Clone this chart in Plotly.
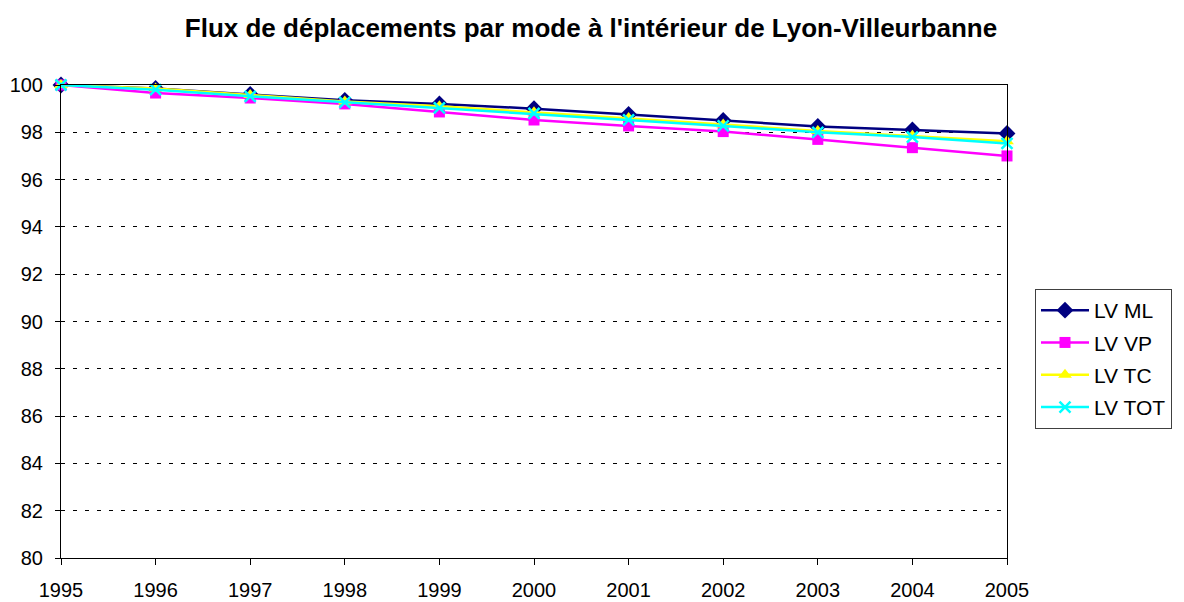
import plotly.graph_objects as go

years = [1995, 1996, 1997, 1998, 1999, 2000, 2001, 2002, 2003, 2004, 2005]
lv_ml = [100, 99.85, 99.6, 99.35, 99.2, 99.0, 98.75, 98.5, 98.25, 98.1, 97.95]
lv_vp = [100, 99.66, 99.45, 99.2, 98.86, 98.52, 98.27, 98.03, 97.7, 97.35, 97.0]
lv_tc = [100, 99.85, 99.58, 99.3, 99.1, 98.85, 98.6, 98.33, 98.05, 97.85, 97.62]
lv_tot = [100, 99.8, 99.52, 99.27, 99.03, 98.8, 98.53, 98.27, 98.0, 97.8, 97.53]
y_ticks = [80, 82, 84, 86, 88, 90, 92, 94, 96, 98, 100]

series = [
    ("LV ML", lv_ml, "#000080", "diamond", 13),
    ("LV VP", lv_vp, "#FF00FF", "square", 11),
    ("LV TC", lv_tc, "#FFFF00", "triangle-up", 12),
    ("LV TOT", lv_tot, "#00FFFF", "x-thin", 11),
]

fig = go.Figure()
for name, vals, color, sym, size in series:
    marker = dict(symbol=sym, size=size, color=color)
    if sym == "x-thin":
        marker["line"] = dict(color=color, width=2.5)
    fig.add_trace(go.Scatter(
        x=years, y=vals, name=name, mode="lines+markers", legendgroup=name,
        line=dict(color=color, width=2.5), marker=marker,
    ))

fig.update_layout(
    width=1184, height=602,
    margin=dict(l=53, r=185, t=77, b=52, autoexpand=False),
    paper_bgcolor="white", plot_bgcolor="white",
    font=dict(family="Liberation Sans, Arial, sans-serif", size=20, color="black"),
    title=dict(text="<b>Flux de déplacements par mode à l'intérieur de Lyon-Villeurbanne</b>",
               x=583 / 1184, xref="container", xanchor="center", y=1 - 20 / 602, yref="container",
               yanchor="middle", font=dict(size=26)),
    showlegend=True,
    legend=dict(x=(1035 - 61) / 946, xref="paper", xanchor="left",
                y=(558 - 289) / 473, yref="paper", yanchor="top",
                bordercolor="#404040", borderwidth=1,
                font=dict(size=21), itemwidth=48, tracegroupgap=2),
)
fig.update_xaxes(
    range=[1995, 2005], tickvals=years, ticktext=[str(y) for y in years],
    showline=True, linecolor="black", linewidth=1, mirror=True,
    ticks="outside", ticklen=6, tickcolor="black", showgrid=False, zeroline=False,
    tickfont=dict(size=20), ticklabelstandoff=8,
)
fig.update_yaxes(
    range=[80, 100], tickvals=y_ticks,
    showline=True, linecolor="black", linewidth=1, mirror=True,
    ticks="outside", ticklen=5, tickcolor="black",
    showgrid=True, gridcolor="black", griddash="4px,8px", gridwidth=1, zeroline=False,
    tickfont=dict(size=20), ticklabelstandoff=8,
)
fig.update_traces(cliponaxis=False)
fig.write_html("out.html")
